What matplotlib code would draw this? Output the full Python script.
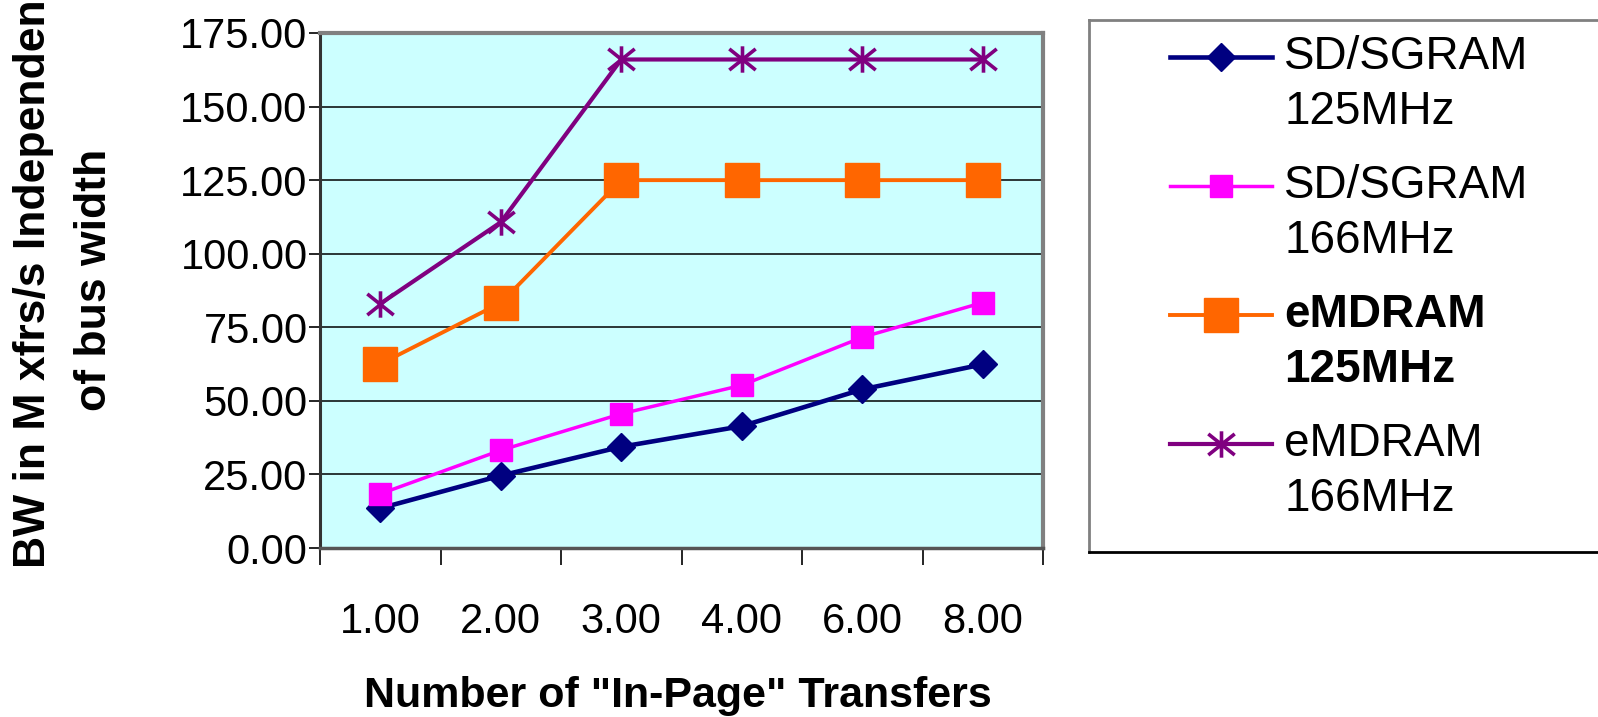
import matplotlib
matplotlib.use('Agg')
import matplotlib.pyplot as plt
from matplotlib.path import Path
from matplotlib.lines import Line2D
from matplotlib.patches import Rectangle

plt.rcParams['font.family'] = ['Liberation Sans', 'DejaVu Sans']

# Data
transfers = ['1.00', '2.00', '3.00', '4.00', '6.00', '8.00']
sd_125 = [13.5, 24.6, 34.4, 41.4, 53.9, 62.4]
sd_166 = [18.4, 33.2, 45.6, 55.3, 71.6, 83.4]
em_125 = [62.5, 83.3, 125.0, 125.0, 125.0, 125.0]
em_166 = [83.0, 110.7, 166.0, 166.0, 166.0, 166.0]
y_ticks = [0, 25, 50, 75, 100, 125, 150, 175]

W, H = 1598, 717
fig = plt.figure(figsize=(W / 100, H / 100), dpi=100)

def fx(px):
    return px / W

def fy(py):
    return 1 - py / H

# plot area in pixel terms
left, right, top, bottom = 320, 1043, 33, 548
ax = fig.add_axes([fx(left), fy(bottom), fx(right - left), (bottom - top) / H])
ax.set_facecolor('#CCFFFF')

# Excel-style star: vertical bar plus an X
star = Path([(0, -1), (0, 1), (-1, -0.8), (1, 0.8), (-1, 0.8), (1, -0.8)],
            [Path.MOVETO, Path.LINETO, Path.MOVETO, Path.LINETO, Path.MOVETO, Path.LINETO])

styles = [
    (sd_125, '#000080', 3.3, dict(marker='D', markersize=14)),
    (sd_166, '#FF00FF', 2.5, dict(marker='s', markersize=16)),
    (em_125, '#FF6600', 2.8, dict(marker='s', markersize=24.5)),
    (em_166, '#800080', 3.0, dict(marker=star, markersize=19, markeredgewidth=2.6,
                                   markerfacecolor='none')),
]
names = [('SD/SGRAM', '125MHz', 'normal'),
         ('SD/SGRAM', '166MHz', 'normal'),
         ('eMDRAM', '125MHz', 'bold'),
         ('eMDRAM', '166MHz', 'normal')]

x = list(range(len(transfers)))
for vals, col, lw, mk in styles:
    kw = dict(mk)
    kw.setdefault('markerfacecolor', col)
    ax.plot(x, vals, color=col, linewidth=lw, markeredgecolor=col, zorder=3,
            clip_on=False, **kw)

ax.set_xlim(-0.5, len(transfers) - 0.5)
ax.set_ylim(0, 175)

ax.set_yticks(y_ticks)
ax.set_yticklabels([f'{v:.2f}' for v in y_ticks], fontsize=30)
ax.yaxis.grid(True, color='black', linewidth=1.1)
ax.set_axisbelow(True)
ax.tick_params(axis='y', direction='out', length=8, width=1.2, pad=1)

ax.set_xticks(x)
ax.set_xticklabels(transfers, fontsize=30)
ax.tick_params(axis='x', which='major', length=0, pad=39)
ax.set_xticks([i - 0.5 for i in range(len(transfers) + 1)], minor=True)
ax.tick_params(axis='x', which='minor', direction='out', length=12, width=1.2)

for side in ['top', 'right']:
    ax.spines[side].set_color('#808080')
    ax.spines[side].set_linewidth(3)
ax.spines['left'].set_color('#333333')
ax.spines['left'].set_linewidth(2.2)
ax.spines['bottom'].set_color('#555555')
ax.spines['bottom'].set_linewidth(2.5)

# axis titles
fig.text(fx(678), fy(696), 'Number of "In-Page" Transfers', fontsize=31,
         fontweight='bold', ha='center', va='center')
fig.text(fx(34), fy(568), 'BW in M xfrs/s Independen', fontsize=32,
         fontweight='bold', rotation=90, ha='center', va='bottom')
fig.text(fx(94), fy(280), 'of bus width', fontsize=32,
         fontweight='bold', rotation=90, ha='center', va='center')

# legend box, running off the right edge
fig.add_artist(Rectangle((fx(1089), fy(552)), fx(W), (552 - 20) / H,
                         transform=fig.transFigure, facecolor='white',
                         edgecolor='none', zorder=0))
fig.add_artist(Line2D([fx(1089), 1], [fy(20), fy(20)], color='#808080', lw=2))
fig.add_artist(Line2D([fx(1089), fx(1089)], [fy(20), fy(552)], color='#808080', lw=2))
fig.add_artist(Line2D([fx(1089), 1], [fy(552), fy(552)], color='black', lw=2))

row_y = [57, 186, 315, 444]
for (vals, col, lw, mk), (l1, l2, wt), ry in zip(styles, names, row_y):
    kw = dict(mk)
    kw.setdefault('markerfacecolor', col)
    fig.add_artist(Line2D([fx(1170), fx(1221), fx(1272)], [fy(ry)] * 3,
                          color=col, linewidth=lw, markeredgecolor=col,
                          markevery=[1], **kw))
    fig.text(fx(1284), fy(ry), l1, fontsize=33, fontweight=wt, va='center', ha='left')
    fig.text(fx(1284), fy(ry + 55), l2, fontsize=33, fontweight=wt, va='center', ha='left')

fig.savefig('out.png', dpi=100)
